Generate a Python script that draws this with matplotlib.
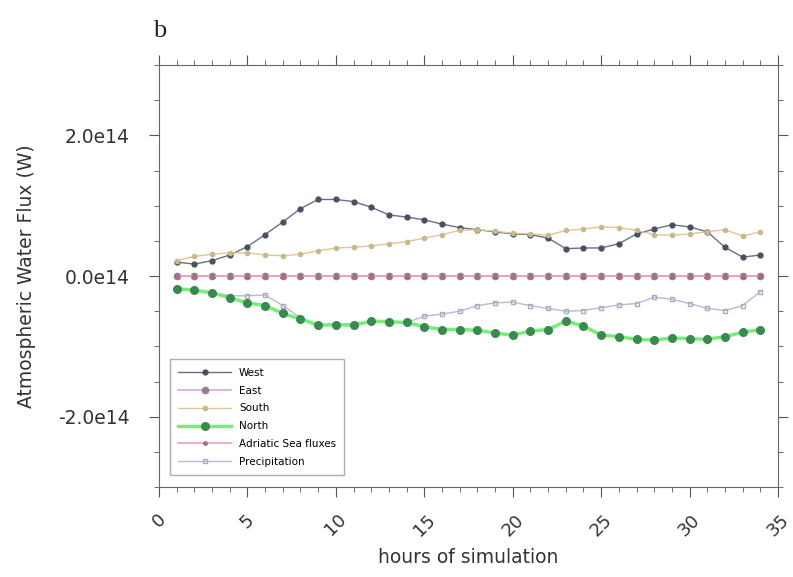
import matplotlib
matplotlib.use("Agg")
import matplotlib.pyplot as plt
from matplotlib.ticker import MultipleLocator, FuncFormatter

hours = list(range(1, 35))
west = [0.20, 0.17, 0.22, 0.30, 0.42, 0.59, 0.77, 0.96, 1.09, 1.09, 1.06, 0.98, 0.87, 0.84,
        0.80, 0.74, 0.69, 0.66, 0.63, 0.60, 0.59, 0.54, 0.39, 0.40, 0.40, 0.46, 0.60, 0.67,
        0.73, 0.70, 0.63, 0.41, 0.27, 0.30]
east = [0.0] * 34
south = [0.22, 0.28, 0.31, 0.33, 0.33, 0.30, 0.29, 0.31, 0.36, 0.40, 0.41, 0.43, 0.46, 0.49,
         0.54, 0.59, 0.65, 0.66, 0.64, 0.61, 0.60, 0.58, 0.65, 0.67, 0.70, 0.69, 0.65, 0.59,
         0.58, 0.60, 0.63, 0.66, 0.57, 0.63]
north = [-0.18, -0.20, -0.24, -0.31, -0.38, -0.42, -0.53, -0.61, -0.70, -0.69, -0.70, -0.64,
         -0.65, -0.66, -0.72, -0.76, -0.76, -0.77, -0.81, -0.84, -0.78, -0.76, -0.64, -0.71,
         -0.84, -0.86, -0.90, -0.91, -0.88, -0.89, -0.90, -0.86, -0.80, -0.76]
adriatic = [0.0] * 34
precip = [-0.17, -0.19, -0.23, -0.28, -0.28, -0.27, -0.42, -0.59, -0.69, -0.68, -0.68, -0.64,
          -0.65, -0.66, -0.57, -0.54, -0.50, -0.42, -0.38, -0.37, -0.42, -0.46, -0.50, -0.49,
          -0.45, -0.41, -0.39, -0.30, -0.33, -0.39, -0.46, -0.49, -0.42, -0.22]
scale = 1e14

fig = plt.figure(figsize=(7.93, 5.77), dpi=100)
ax = fig.add_axes([0.2005, 0.156, 0.7806, 0.731])

def y(v):
    return [a * scale for a in v]

ax.plot(hours, y(west), color="#6a7080", lw=1.0, marker="o", ms=3.5, mfc="#4a5060", mec="#4a5060", label="West")
ax.plot(hours, y(south), color="#d8c89a", lw=1.0, marker="o", ms=3, mfc="#c8b88a", mec="#c8b88a", label="South")
ax.plot(hours, y(precip), color="#b8bccc", lw=1.0, marker="s", ms=3.5, mfc="none", mec="#a8acc0", label="Precipitation")
ax.plot(hours, y(north), color="#77ee77", lw=2.5, marker="o", ms=5.5, mfc="#3a8a50", mec="#3a8a50", label="North")
ax.plot(hours, y(east), color="#d8a8e0", lw=1.2, marker="o", ms=4.5, mfc="#9a7a9a", mec="#9a7a9a", label="East")
ax.plot(hours, y(adriatic), color="#f0a0b0", lw=1.2, marker="o", ms=2.5, mfc="#a07080", mec="#a07080",
        label="Adriatic Sea fluxes")

ax.set_xlim(0, 35)
ax.set_ylim(-3e14, 3e14)
ax.xaxis.set_major_locator(MultipleLocator(5))
ax.xaxis.set_minor_locator(MultipleLocator(1))
ax.yaxis.set_major_locator(MultipleLocator(2e14))
ax.yaxis.set_minor_locator(MultipleLocator(0.5e14))
ax.yaxis.set_major_formatter(FuncFormatter(lambda v, p: f"{v / scale:.1f}e14"))
ax.tick_params(which="both", direction="out", top=True, right=True, colors="#555555",
               labelcolor="#333333", labelsize=13.5, pad=14)
ax.tick_params(which="major", length=7)
ax.tick_params(which="minor", length=3.5)
ax.tick_params(axis="x", labelrotation=45, pad=10, labelsize=13)
for s in ax.spines.values():
    s.set_color("#666666")

ax.set_xlabel("hours of simulation", fontsize=13.5, color="#333333", labelpad=6)
ax.set_ylabel("Atmospheric Water Flux (W)", fontsize=13.5, color="#333333", labelpad=16)
ax.text(-0.01, 1.055, "b", transform=ax.transAxes, fontsize=19, family="Liberation Serif",
        color="#222222", ha="left", va="bottom")

handles, labels = ax.get_legend_handles_labels()
order = ["West", "East", "South", "North", "Adriatic Sea fluxes", "Precipitation"]
hmap = dict(zip(labels, handles))
ax.legend([hmap[k] for k in order], order, loc="lower left", fontsize=7.5, frameon=True,
          fancybox=False, edgecolor="#999999", bbox_to_anchor=(0.018, 0.028), borderaxespad=0,
          handlelength=5, labelspacing=0.75, borderpad=0.8)

fig.savefig("out.png", dpi=100)
